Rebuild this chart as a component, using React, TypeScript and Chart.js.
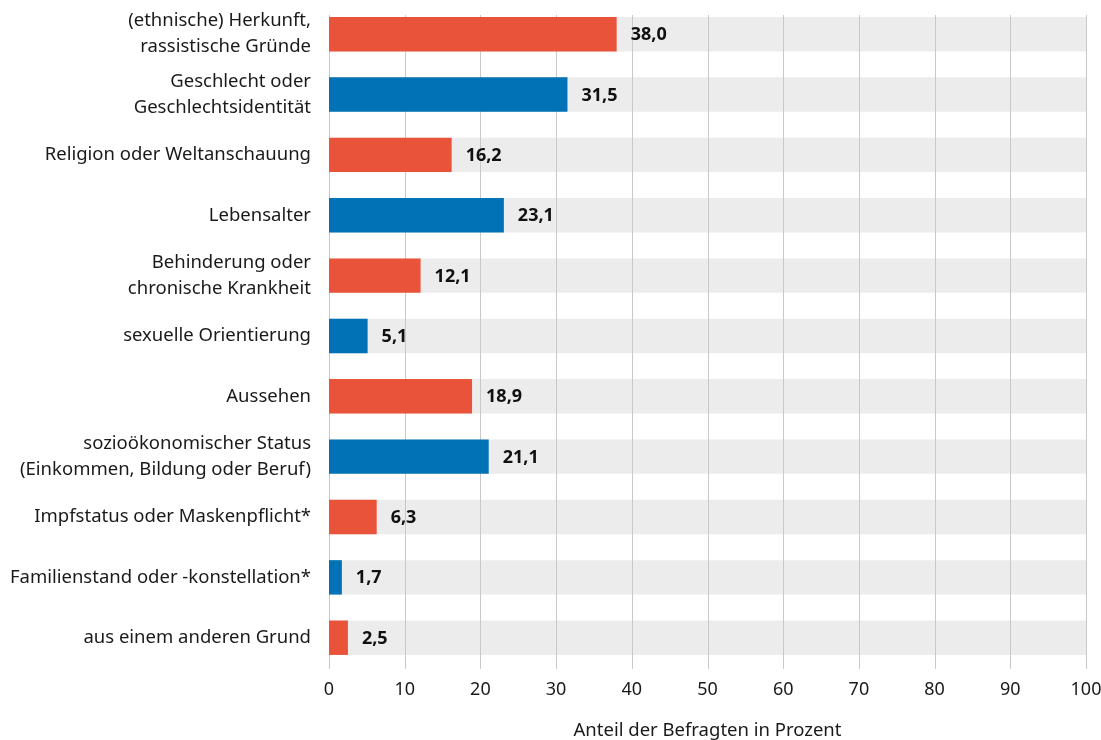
import React, { useEffect, useRef } from "react";
import { Chart, registerables } from "chart.js";

Chart.register(...registerables);

const categories: (string | string[])[] = [
  ["(ethnische) Herkunft,", "rassistische Gründe"],
  ["Geschlecht oder", "Geschlechtsidentität"],
  "Religion oder Weltanschauung",
  "Lebensalter",
  ["Behinderung oder", "chronische Krankheit"],
  "sexuelle Orientierung",
  "Aussehen",
  ["sozioökonomischer Status", "(Einkommen, Bildung oder Beruf)"],
  "Impfstatus oder Maskenpflicht*",
  "Familienstand oder -konstellation*",
  "aus einem anderen Grund",
];

const values: number[] = [38.0, 31.5, 16.2, 23.1, 12.1, 5.1, 18.9, 21.1, 6.3, 1.7, 2.5];
const backgroundValues: number[] = [100, 100, 100, 100, 100, 100, 100, 100, 100, 100, 100];
const xTicks: number[] = [0, 10, 20, 30, 40, 50, 60, 70, 80, 90, 100];
const axisTitle = "Anteil der Befragten in Prozent";

const RED = "#e8533a";
const BLUE = "#0072b5";
const BAND = "#ebeceb";
const GRID = "#c8c8c8";
const TEXT = "#1a1a1a";
const FONT = "'Noto Sans', 'Open Sans', sans-serif";

export default function App() {
  const canvasRef = useRef<HTMLCanvasElement | null>(null);

  useEffect(() => {
    if (!canvasRef.current) return;

    const gridAfterBands = {
      id: "gridAfterBands",
      afterDatasetDraw(chart: any, args: any) {
        if (args.index !== 1) return;
        const xs = chart.scales.x;
        const bands = chart.getDatasetMeta(1).data;
        const first: any = bands[0];
        const top = Math.floor(first.y - first.height / 2) - 1;
        const bottom = chart.chartArea.bottom + 1;
        const ctx = chart.ctx;
        ctx.save();
        ctx.strokeStyle = GRID;
        ctx.lineWidth = 1;
        xTicks.forEach((v) => {
          const x = Math.round(xs.getPixelForValue(v)) + 0.5;
          ctx.beginPath();
          ctx.moveTo(x, top);
          ctx.lineTo(x, bottom);
          ctx.stroke();
        });
        ctx.restore();
      },
    };

    const valueLabels = {
      id: "valueLabels",
      afterDatasetsDraw(chart: any) {
        const meta = chart.getDatasetMeta(0);
        const ctx = chart.ctx;
        ctx.save();
        ctx.font = `bold 18px ${FONT}`;
        ctx.fillStyle = "#111111";
        ctx.textAlign = "left";
        ctx.textBaseline = "middle";
        meta.data.forEach((bar: any, i: number) => {
          const txt = values[i].toFixed(1).replace(".", ",");
          ctx.fillText(txt, bar.x + 14, bar.y + 1);
        });
        ctx.restore();
      },
    };

    const chart = new Chart(canvasRef.current, {
      type: "bar",
      data: {
        labels: categories,
        datasets: [
          {
            data: values,
            backgroundColor: values.map((_, i) => (i % 2 === 0 ? RED : BLUE)),
            barPercentage: 0.57,
            categoryPercentage: 1,
            grouped: false,
            order: 0,
          },
          {
            data: backgroundValues,
            backgroundColor: BAND,
            barPercentage: 0.57,
            categoryPercentage: 1,
            grouped: false,
            order: 1,
          },
        ],
      },
      options: {
        indexAxis: "y",
        animation: false,
        responsive: false,
        maintainAspectRatio: false,
        layout: { padding: { top: 4, right: 0, left: 0, bottom: 0 } },
        plugins: {
          legend: { display: false },
          tooltip: { enabled: false },
        },
        scales: {
          x: {
            min: 0,
            max: 100,
            afterBuildTicks: (scale: any) => {
              scale.ticks = xTicks.map((v) => ({ value: v }));
            },
            afterFit: (scale: any) => {
              scale.paddingLeft = 0;
              scale.paddingRight = 15;
            },
            grid: { display: false, drawTicks: false },
            border: { display: false },
            ticks: {
              color: TEXT,
              font: { family: FONT, size: 18 },
              padding: 11,
              maxRotation: 0,
            },
            title: {
              display: true,
              text: axisTitle,
              color: TEXT,
              font: { family: FONT, size: 18.5, lineHeight: 1 },
              padding: { top: 10, bottom: 0 },
            },
          },
          y: {
            grid: { display: false, drawTicks: false },
            border: { display: false },
            afterFit: (scale: any) => {
              scale.width = 329;
              scale.paddingTop = 0;
              scale.paddingBottom = 0;
            },
            ticks: {
              color: TEXT,
              font: { family: FONT, size: 18.5, lineHeight: 1.4 },
              padding: 18,
            },
          },
        },
      },
      plugins: [gridAfterBands, valueLabels],
    });

    return () => chart.destroy();
  }, []);

  return (
    <div style={{ position: "fixed", left: 0, top: 0, width: 1101, height: 740, background: "#fff" }}>
      <canvas ref={canvasRef} width={1101} height={740} style={{ width: 1101, height: 740 }} />
    </div>
  );
}
